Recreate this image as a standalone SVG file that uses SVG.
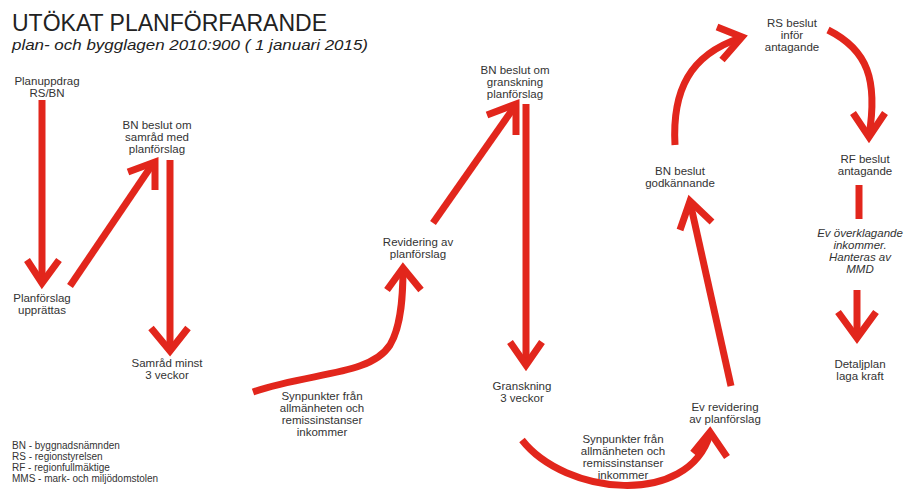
<svg xmlns="http://www.w3.org/2000/svg" width="908" height="492" viewBox="0 0 908 492">
<style>
.t{font-family:"Liberation Sans",Arial,sans-serif;font-size:11.5px;fill:#333;text-anchor:middle}
.i{font-style:italic}
.lg{font-family:"Liberation Sans",Arial,sans-serif;font-size:10px;fill:#333}
.a{fill:none;stroke:#e2261c;stroke-width:7;stroke-linecap:butt;stroke-linejoin:miter}
</style>
<rect width="908" height="492" fill="#fff"/>
<g id="title">
<text x="12" y="31" font-family="Liberation Sans,Arial,sans-serif" font-size="24" fill="#222" textLength="315" lengthAdjust="spacingAndGlyphs">UTÖKAT PLANFÖRFARANDE</text>
<text x="12" y="50" font-family="Liberation Sans,Arial,sans-serif" font-size="15" font-style="italic" fill="#222" textLength="356" lengthAdjust="spacingAndGlyphs">plan- och bygglagen 2010:900 ( 1 januari 2015)</text>
</g>
<g id="connectors">
<path class="a" d="M42,100 V283"/>
<path class="a" d="M27,260 L42,283 L59,260"/>
<path class="a" d="M70,286 L154,162"/>
<path class="a" d="M128,172 L155,162 L155,190"/>
<path class="a" d="M170,160 V351"/>
<path class="a" d="M151,328 L170,351 L188,328"/>
<path class="a" d="M253,392 C310,372 370,376 390,345 C402,325 403,292 403,268"/>
<path class="a" d="M387,290 L403,268 L421,290"/>
<path class="a" d="M433,223 L515,106"/>
<path class="a" d="M487,115 L516,104 L516,135"/>
<path class="a" d="M526,104 V365"/>
<path class="a" d="M510,342 L526,365 L542,342"/>
<path class="a" d="M522,440 C565,495 688,508 710,434"/>
<path class="a" d="M693,453 L710,432 L727,457"/>
<path class="a" d="M731,386 L690,202"/>
<path class="a" d="M680,230 L690,201 L712,222"/>
<path class="a" d="M675,145 C672,90 690,55 740,38"/>
<path class="a" d="M717,27 L742,37 L722,60"/>
<path class="a" d="M828,30 C868,50 878,80 869,136"/>
<path class="a" d="M853,113 L869,137 L885,113"/>
<path class="a" d="M859,185 V219"/>
<path class="a" d="M857,290 V338"/>
<path class="a" d="M838,312 L857,338 L876,312"/>
</g>
<g id="n-planuppdrag"><text class="t" x="47" y="85">Planuppdrag</text><text class="t" x="47" y="97">RS/BN</text></g>
<g id="n-upprattas"><text class="t" x="42" y="302">Planförslag</text><text class="t" x="42" y="314">upprättas</text></g>
<g id="n-samradbeslut"><text class="t" x="157" y="129">BN beslut om</text><text class="t" x="157" y="141">samråd med</text><text class="t" x="157" y="153">planförslag</text></g>
<g id="n-samrad"><text class="t" x="167" y="367">Samråd minst</text><text class="t" x="167" y="379">3 veckor</text></g>
<g id="n-synpunkter1"><text class="t" x="322" y="400">Synpunkter från</text><text class="t" x="322" y="412">allmänheten och</text><text class="t" x="322" y="424">remissinstanser</text><text class="t" x="322" y="436">inkommer</text></g>
<g id="n-revidering"><text class="t" x="418" y="246">Revidering av</text><text class="t" x="418" y="258">planförslag</text></g>
<g id="n-granskningbeslut"><text class="t" x="515" y="74">BN beslut om</text><text class="t" x="515" y="86">granskning</text><text class="t" x="515" y="98">planförslag</text></g>
<g id="n-granskning"><text class="t" x="522" y="390">Granskning</text><text class="t" x="522" y="402">3 veckor</text></g>
<g id="n-synpunkter2"><text class="t" x="623" y="443">Synpunkter från</text><text class="t" x="623" y="455">allmänheten och</text><text class="t" x="623" y="467">remissinstanser</text><text class="t" x="623" y="479">inkommer</text></g>
<g id="n-evrevidering"><text class="t" x="725" y="411">Ev revidering</text><text class="t" x="725" y="423">av planförslag</text></g>
<g id="n-godkannande"><text class="t" x="680" y="175">BN beslut</text><text class="t" x="680" y="187">godkännande</text></g>
<g id="n-rsbeslut"><text class="t" x="792" y="27">RS beslut</text><text class="t" x="792" y="39">inför</text><text class="t" x="792" y="51">antagande</text></g>
<g id="n-rfbeslut"><text class="t" x="865" y="163">RF beslut</text><text class="t" x="865" y="175">antagande</text></g>
<g id="n-overklagande"><text class="t i" x="860" y="237">Ev överklagande</text><text class="t i" x="860" y="249">inkommer.</text><text class="t i" x="860" y="261">Hanteras av</text><text class="t i" x="860" y="273">MMD</text></g>
<g id="n-detaljplan"><text class="t" x="860" y="368">Detaljplan</text><text class="t" x="860" y="380">laga kraft</text></g>
<g id="legend">
<text class="lg" x="12" y="449">BN - byggnadsnämnden</text>
<text class="lg" x="12" y="460">RS - regionstyrelsen</text>
<text class="lg" x="12" y="471">RF - regionfullmäktige</text>
<text class="lg" x="12" y="482">MMS - mark- och miljödomstolen</text>
</g>
</svg>
